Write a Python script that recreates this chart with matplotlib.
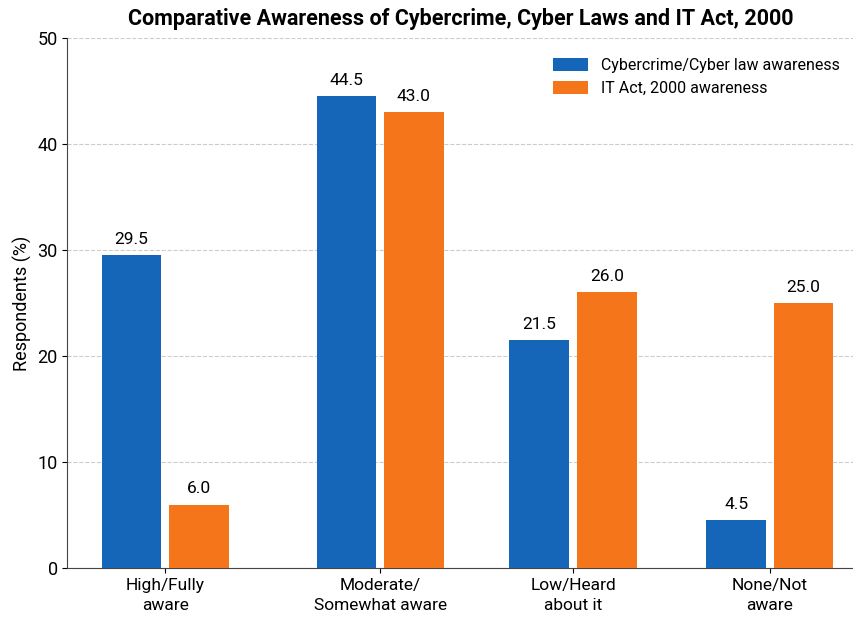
import numpy as np
import matplotlib.pyplot as plt

plt.rcParams['font.family'] = ['Roboto', 'DejaVu Sans']

categories = ['High/Fully\naware', 'Moderate/\nSomewhat aware', 'Low/Heard\nabout it', 'None/Not\naware']
cyber_law = [29.5, 44.5, 21.5, 4.5]
it_act = [6.0, 43.0, 26.0, 25.0]

blue = '#1565b8'
orange = '#f5761a'

# group centres (slightly uneven spacing)
x = np.array([0.0, 1.115, 2.116, 3.137])
w = 0.31

fig = plt.figure(figsize=(8.54, 6.21), dpi=100)
ax = fig.add_axes([0.079, 0.085, 0.921, 0.854])

b1 = ax.bar(x - w / 2 - 0.02, cyber_law, w, color=blue, label='Cybercrime/Cyber law awareness', zorder=3)
b2 = ax.bar(x + w / 2 + 0.02, it_act, w, color=orange, label='IT Act, 2000 awareness', zorder=3)

for bars, vals in ((b1, cyber_law), (b2, it_act)):
    for r, v in zip(bars, vals):
        ax.text(r.get_x() + r.get_width() / 2, v + 0.8, f'{v:.1f}',
                ha='center', va='bottom', fontsize=12.5)

ax.set_xlim(-0.508, 3.574)
ax.set_ylim(0, 50)
ax.set_yticks([0, 10, 20, 30, 40, 50])
ax.set_xticks(x)
ax.set_xticklabels(categories, fontsize=12.5, linespacing=1.4)
ax.tick_params(axis='y', labelsize=13)
ax.set_ylabel('Respondents (%)', fontsize=13)

ax.yaxis.grid(True, linestyle='--', color='#cccccc', linewidth=0.8, zorder=0)
ax.spines['top'].set_visible(False)
ax.spines['right'].set_visible(False)
ax.spines['left'].set_color('#444444')
ax.spines['bottom'].set_color('#444444')

ax.set_title('Comparative Awareness of Cybercrime, Cyber Laws and IT Act, 2000',
             fontsize=15.5, fontweight='bold', pad=9, x=0.5)
ax.legend(loc='upper right', frameon=False, fontsize=11.5, bbox_to_anchor=(1.0, 0.99),
          handlelength=2.2, handleheight=0.9)

fig.savefig('out.png', dpi=100)
